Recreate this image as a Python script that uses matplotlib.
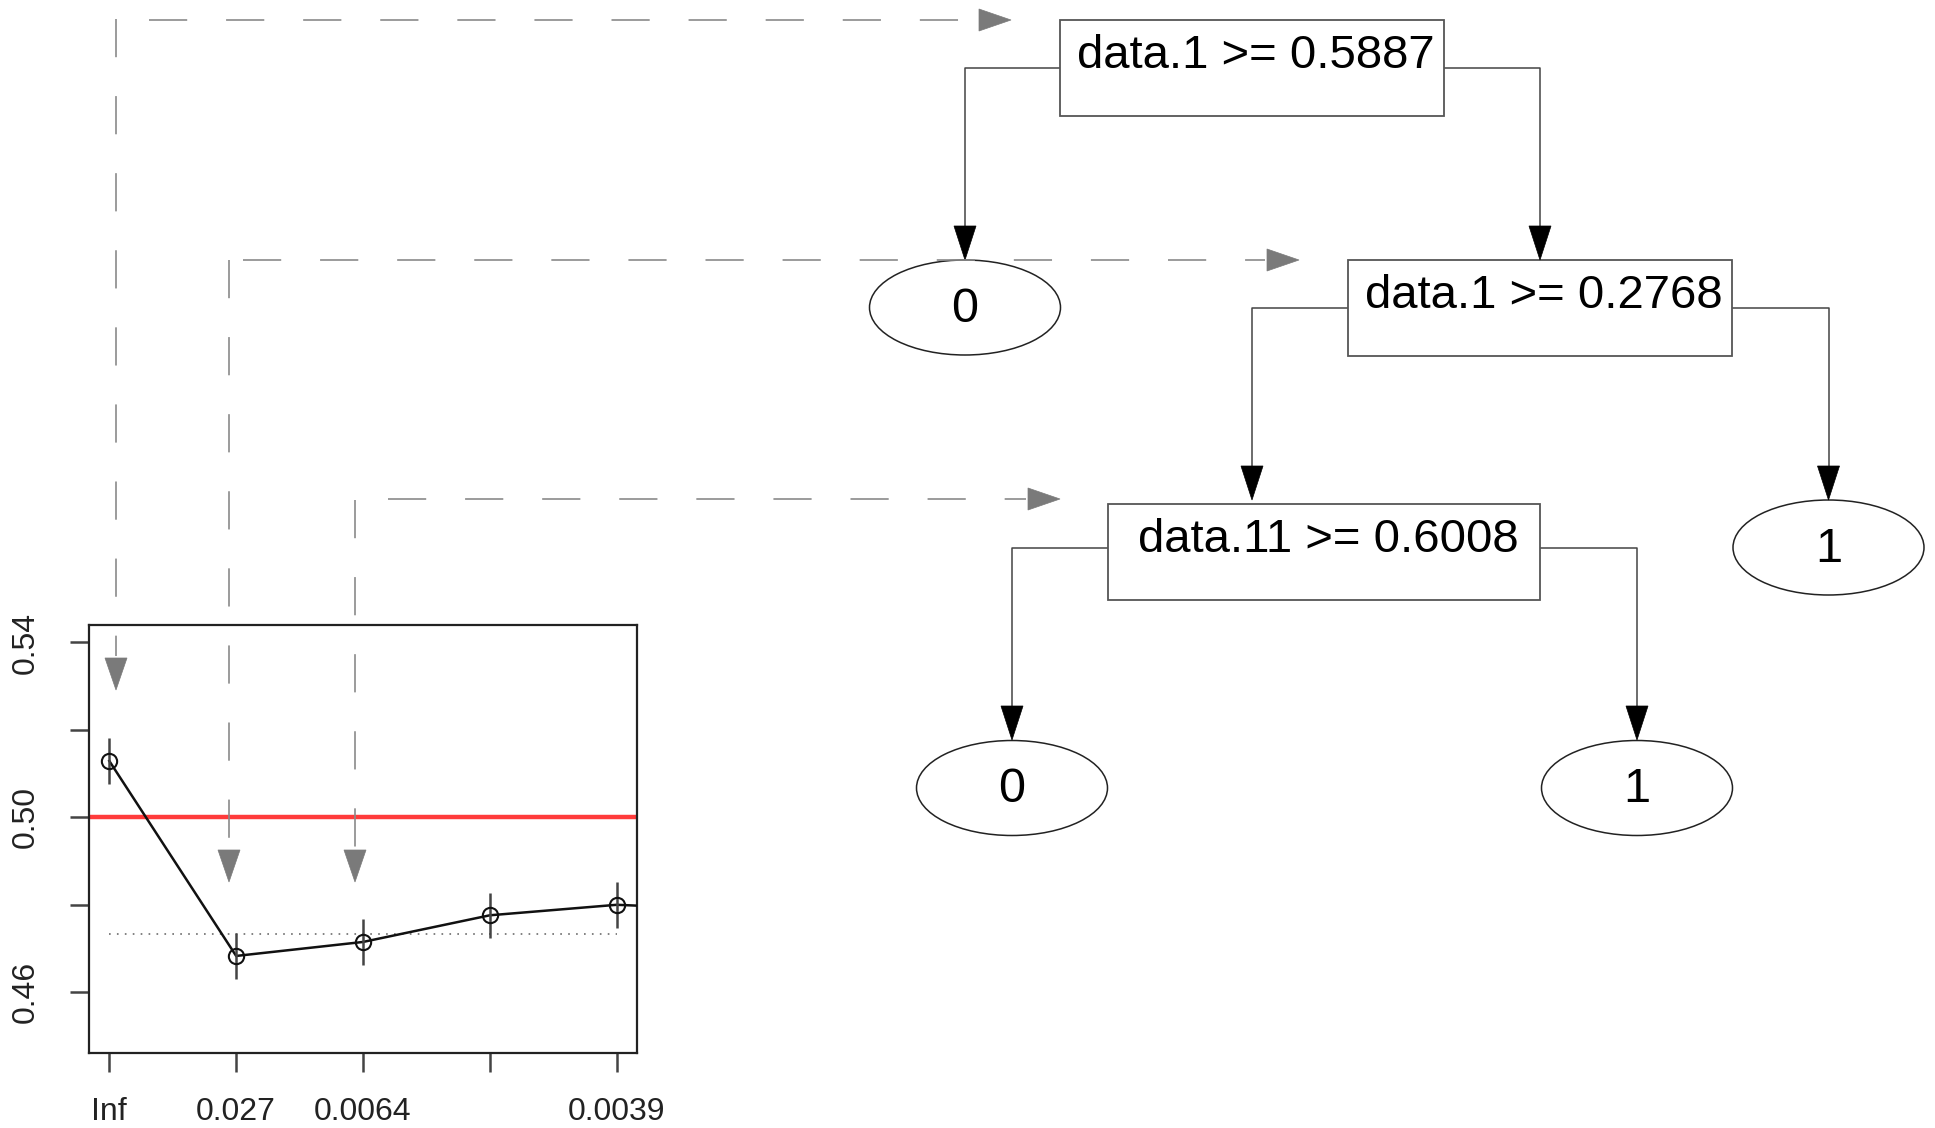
import matplotlib
matplotlib.use("Agg")
import matplotlib.pyplot as plt
from matplotlib.patches import Rectangle, Ellipse, Polygon

plt.rcParams['font.family'] = ['Liberation Sans', 'DejaVu Sans']
plt.rcParams['lines.scale_dashes'] = False

# tree content
split_labels = ['data.1 >= 0.5887', 'data.1 >= 0.2768', 'data.11 >= 0.6008']
leaf_labels = ['0', '1', '0', '1']

# cross-validation curve (cp table)
cp_labels = ['Inf', '0.027', '0.0064', '', '0.0039']
xerror = [0.5129, 0.4683, 0.4715, 0.4776, 0.4800, 0.4788]
xstd = [0.0052, 0.0052, 0.0052, 0.0052, 0.0052]
baseline = 0.50
min_plus_se = 0.4733
ytick_vals = [0.46, 0.48, 0.50, 0.52, 0.54]
ytick_text = ['0.46', '', '0.50', '', '0.54']

W, H = 1935, 1128
fig = plt.figure(figsize=(W / 100, H / 100), dpi=100)

# ---- small cp plot ----
L, R, T, B = 89, 637, 625, 1053
ax = fig.add_axes([L / W, 1 - B / H, (R - L) / W, (B - T) / H], zorder=1)
xs = list(range(1, len(xerror) + 1))
ax.axhline(baseline, color='#ff3b3b', lw=3.2, zorder=2)
ax.plot([1, 5], [min_plus_se, min_plus_se], color='#777777', lw=1.3,
        linestyle=(0, (1.2, 4.5)), zorder=2)
ax.plot(xs, xerror, color='#111111', lw=1.8, zorder=3)
ax.errorbar(xs[:5], xerror[:5], yerr=xstd, fmt='none', ecolor='#444444',
            elinewidth=1.8, capsize=0, zorder=3)
ax.plot(xs[:5], xerror[:5], 'o', mfc='none', mec='#111111', ms=11, mew=1.5, zorder=4)
ax.set_xlim(0.84, 5.16)
ax.set_ylim(0.4461, 0.5440)
ax.set_xticks(range(1, 6))
ax.set_xticklabels(cp_labels)
ax.set_yticks(ytick_vals)
ax.set_yticklabels(ytick_text)
ax.tick_params(axis='both', length=13.5, width=1.8, color='#444444',
               labelsize=23, labelcolor='#222222')
ax.tick_params(axis='x', pad=18)
ax.tick_params(axis='y', pad=21, labelrotation=90)
for lab in ax.get_yticklabels():
    lab.set_va('center')
for s in ax.spines.values():
    s.set_linewidth(1.6)
    s.set_color('#222222')

# ---- overlay for the tree and guide arrows ----
ov = fig.add_axes([0, 0, 1, 1], zorder=2)
ov.set_xlim(0, W)
ov.set_ylim(H, 0)
ov.axis('off')
ov.patch.set_alpha(0)


def head(x, y, direction, color, length=33, half=11):
    if direction == 'down':
        pts = [(x - half, y - length), (x + half, y - length), (x, y)]
    else:
        pts = [(x - length, y - half), (x - length, y + half), (x, y)]
    ov.add_patch(Polygon(pts, closed=True, fc=color, ec=color, lw=0.5, zorder=5))


# split boxes: x, y, w, h
boxes = [(1060, 20, 384, 96), (1348, 260, 384, 96), (1108, 504, 432, 96)]
for (bx, by, bw, bh), lab in zip(boxes, split_labels):
    ov.add_patch(Rectangle((bx, by), bw, bh, fc='white', ec='#555555', lw=1.3, zorder=3))
    ov.text(bx + bw / 2 + 4, by + bh / 2 - 12, lab, ha='center', va='center',
            fontsize=34, color='black', zorder=4)

# leaves: center x, y
leaves = [(965, 307.5), (1828.5, 547.5), (1012, 788), (1637, 788)]
lw_, lh_ = 191, 95
for (cx, cy), lab in zip(leaves, leaf_labels):
    ov.add_patch(Ellipse((cx, cy), lw_, lh_, fc='white', ec='#222222', lw=1.1, zorder=3))
    ov.text(cx, cy + 2, lab, ha='center', va='center', fontsize=35, zorder=4)

# connectors: (box index, side, target x, target y)
edges = [(0, 'L', 965, 260), (0, 'R', 1540, 260),
         (1, 'L', 1252, 500), (1, 'R', 1828.5, 500),
         (2, 'L', 1012, 740), (2, 'R', 1637, 740)]
conn_y = [68, 308, 548]
for bi, side, tx, ty in edges:
    bx, by, bw, bh = boxes[bi]
    sx = bx if side == 'L' else bx + bw
    y0 = conn_y[bi]
    ov.plot([sx, tx, tx], [y0, y0, ty - 30], color='#444444', lw=1.1, zorder=2)
    head(tx, ty, 'down', 'black', length=34, half=11)

# dashed guide arrows from cp plot to tree levels
gray = '#8a8a8a'
dash = (0, (27.5, 28))
guides = [(116, 18.5, 690, 149, 1011, 20),
          (229, 260, 882, 243, 1299, 260),
          (355, 500, 882, 388, 1060, 499)]
for vx, vy0, vtip, hx0, htip, hy in guides:
    ov.plot([vx, vx], [vy0, vtip - 34], color=gray, lw=1.2, linestyle=dash, zorder=6)
    head(vx, vtip, 'down', '#7a7a7a', length=32, half=11)
    ov.plot([hx0, htip - 34], [hy, hy], color=gray, lw=1.2, linestyle=dash, zorder=6)
    head(htip, hy, 'right', '#7a7a7a', length=32, half=11)

fig.savefig('out.png', dpi=100)
